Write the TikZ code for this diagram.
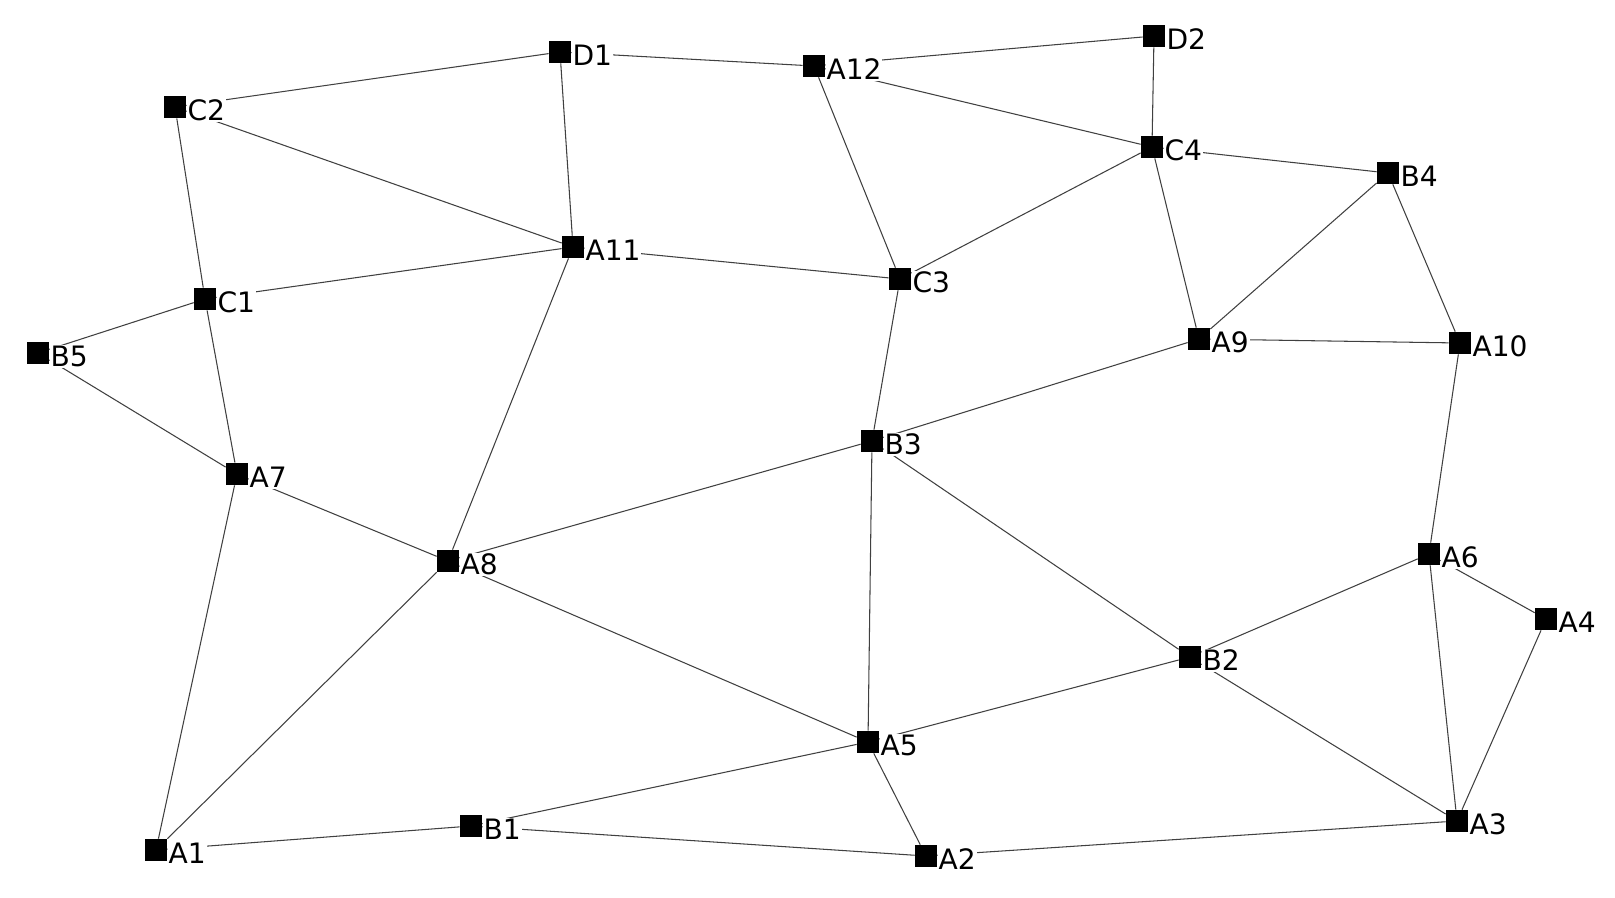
\documentclass[tikz,border=0pt]{standalone}
\usepackage{fontspec}
\setmainfont{DejaVu Sans}
\usetikzlibrary{backgrounds}
\begin{document}
\begin{tikzpicture}[
  x=0.02cm,y=-0.02cm,
  line/.style={line width=0.6pt,black!75},
  vertex/.style={rectangle,fill,inner sep=0pt,minimum size=0.44cm},
  tag/.style={fill=white,inner sep=0.5pt,yshift=-2pt,font=\fontsize{16}{16}\selectfont}]
  \useasboundingbox (0,0) rectangle (1615,898);
  \node[vertex,label={[tag]right:D1}] (D1) at (560,52) {};
  \node[vertex,label={[tag]right:A12}] (A12) at (814,66) {};
  \node[vertex,label={[tag]right:D2}] (D2) at (1154,36) {};
  \node[vertex,label={[tag]right:C2}] (C2) at (175,107) {};
  \node[vertex,label={[tag]right:C4}] (C4) at (1152,147) {};
  \node[vertex,label={[tag]right:B4}] (B4) at (1388,173) {};
  \node[vertex,label={[tag]right:A11}] (A11) at (573,247) {};
  \node[vertex,label={[tag]right:C3}] (C3) at (900,279) {};
  \node[vertex,label={[tag]right:C1}] (C1) at (205,299) {};
  \node[vertex,label={[tag]right:B5}] (B5) at (38,353) {};
  \node[vertex,label={[tag]right:A9}] (A9) at (1199,339) {};
  \node[vertex,label={[tag]right:A10}] (A10) at (1460,343) {};
  \node[vertex,label={[tag]right:B3}] (B3) at (872,441) {};
  \node[vertex,label={[tag]right:A7}] (A7) at (237,474) {};
  \node[vertex,label={[tag]right:A8}] (A8) at (448,561) {};
  \node[vertex,label={[tag]right:A6}] (A6) at (1429,554) {};
  \node[vertex,label={[tag]right:A4}] (A4) at (1546,619) {};
  \node[vertex,label={[tag]right:B2}] (B2) at (1190,657) {};
  \node[vertex,label={[tag]right:A5}] (A5) at (868,742) {};
  \node[vertex,label={[tag]right:A3}] (A3) at (1457,821) {};
  \node[vertex,label={[tag]right:B1}] (B1) at (471,826) {};
  \node[vertex,label={[tag]right:A1}] (A1) at (156,850) {};
  \node[vertex,label={[tag]right:A2}] (A2) at (926,856) {};
  \begin{scope}[on background layer]
    \draw[line] (C2)--(D1)--(A12)--(D2)--(C4)--(A12)--(C3)--(C4)--(B4)--(A10)--(A9)--(C4);
    \draw[line] (C2)--(A11)--(D1) (A11)--(C3)--(B3)--(A9)--(B4);
    \draw[line] (C2)--(C1)--(A11)--(A8)--(A7)--(C1)--(B5)--(A7)--(A1)--(A8)--(B3);
    \draw[line] (A8)--(A5)--(B3)--(B2)--(A6)--(A10) (A6)--(A4)--(A3)--(A6);
    \draw[line] (B2)--(A5)--(B1)--(A1) (B1)--(A2)--(A5) (A2)--(A3)--(B2);
  \end{scope}
\end{tikzpicture}
\end{document}
